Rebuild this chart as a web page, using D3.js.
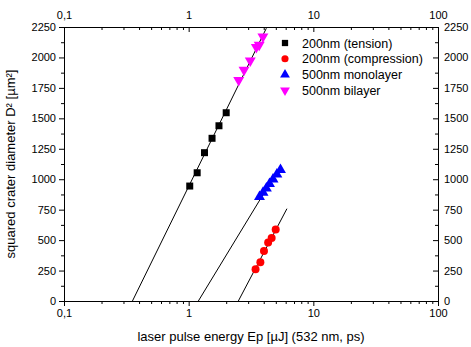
<!DOCTYPE html>
<html>
<head>
<meta charset="utf-8">
<script src="https://cdn.jsdelivr.net/npm/d3@7"></script>
<style>
  body { margin: 0; background: #fff; }
  svg text { font-family: "Liberation Sans", Arial, sans-serif; fill: #000; }
</style>
</head>
<body>
<script>
// data
var tensionE = [1.02, 1.17, 1.34, 1.54, 1.75, 2.0];
var tensionD2 = [944, 1053, 1218, 1336, 1439, 1546];

var compressionE = [3.44, 3.76, 4.02, 4.34, 4.63, 4.99];
var compressionD2 = [260, 318, 410, 480, 517, 587];

var monolayerE = [3.7, 3.95, 4.2, 4.45, 4.75, 5.1, 5.45];
var monolayerD2 = [855, 890, 925, 962, 1000, 1040, 1078];

var bilayerE = [2.52, 2.78, 3.12, 3.49, 3.68, 3.94];
var bilayerD2 = [1814, 1897, 1973, 2085, 2102, 2170];

// fitted lines, [energy, D2] endpoints
var fitTensionBilayer = [[0.354, 0], [4.2, 2240]];
var fitMonolayer = [[1.196, 0], [5.47, 1111]];
var fitCompression = [[2.503, 0], [6.14, 758]];

var xTickValues = [0.1, 1, 10, 100];
var xTickLabels = ["0,1", "1", "10", "100"];
var yTickValues = [0, 250, 500, 750, 1000, 1250, 1500, 1750, 2000, 2250];

var legendNames = ["200nm (tension)", "200nm (compression)", "500nm monolayer", "500nm bilayer"];
var legendColors = ["#000000", "#ff0000", "#0000ff", "#ff00ff"];

function main() {
    var width = 471, height = 347;
    var left = 64, right = 438, top = 27, bottom = 301;

    var svg = d3.select("body").append("svg")
        .attr("width", width)
        .attr("height", height);

    var x = d3.scaleLog().domain([0.1, 100]).range([left, right]);
    var y = d3.scaleLinear().domain([0, 2250]).range([bottom, top]);

    // minor ticks
    var xMinor = [];
    [0.1, 1, 10].forEach(function (d) {
        for (var k = 2; k <= 9; k++) xMinor.push(d * k);
    });
    var yMinor = yTickValues.slice(0, -1).map(function (d) { return d + 125; });

    function fmtX(d) { return xTickLabels[xTickValues.indexOf(d)]; }
    var fmtY = d3.format("d");

    var axB = svg.append("g").attr("transform", "translate(0," + bottom + ")")
        .call(d3.axisBottom(x).tickValues(xTickValues).tickFormat(fmtX).tickSize(5).tickPadding(3).tickSizeOuter(0));
    axB.append("g").call(d3.axisBottom(x).tickValues(xMinor).tickFormat("").tickSize(3).tickSizeOuter(0))
        .select(".domain").remove();

    var axT = svg.append("g").attr("transform", "translate(0," + top + ")")
        .call(d3.axisTop(x).tickValues(xTickValues).tickFormat(fmtX).tickSizeInner(-5).tickPadding(8).tickSizeOuter(0));
    axT.append("g").call(d3.axisTop(x).tickValues(xMinor).tickFormat("").tickSizeInner(-3).tickSizeOuter(0))
        .select(".domain").remove();

    var axL = svg.append("g").attr("transform", "translate(" + left + ",0)")
        .call(d3.axisLeft(y).tickValues(yTickValues).tickFormat(fmtY).tickSize(5).tickPadding(3).tickSizeOuter(0));
    axL.append("g").call(d3.axisLeft(y).tickValues(yMinor).tickFormat("").tickSize(3).tickSizeOuter(0))
        .select(".domain").remove();

    var axR = svg.append("g").attr("transform", "translate(" + right + ",0)")
        .call(d3.axisRight(y).tickValues(yTickValues).tickFormat(fmtY).tickSizeInner(-5).tickPadding(6).tickSizeOuter(0));
    axR.append("g").call(d3.axisRight(y).tickValues(yMinor).tickFormat("").tickSizeInner(-3).tickSizeOuter(0))
        .select(".domain").remove();

    svg.selectAll(".tick text").style("font-size", "11px").style("font-family", "Liberation Sans, Arial, sans-serif");
    svg.selectAll(".domain, .tick line").attr("stroke", "#000").attr("stroke-width", 1);

    // fit lines
    var line = d3.line().x(function (d) { return x(d[0]); }).y(function (d) { return y(d[1]); });
    [fitTensionBilayer, fitMonolayer, fitCompression].forEach(function (f) {
        svg.append("path").datum(f).attr("d", line)
            .attr("fill", "none").attr("stroke", "#000").attr("stroke-width", 1);
    });

    // markers
    var sym = [d3.symbolSquare, d3.symbolCircle, d3.symbolTriangle, d3.symbolTriangle];
    var sizes = [49, 50, 52, 52];
    var rot = [0, 0, 0, 180];
    var series = [
        [tensionE, tensionD2],
        [compressionE, compressionD2],
        [monolayerE, monolayerD2],
        [bilayerE, bilayerD2]
    ];
    series.forEach(function (s, i) {
        var pts = s[0].map(function (e, j) { return [e, s[1][j]]; });
        svg.append("g").selectAll("path").data(pts).join("path")
            .attr("d", d3.symbol().type(sym[i]).size(sizes[i]))
            .attr("transform", function (d) {
                return "translate(" + x(d[0]) + "," + y(d[1]) + ") rotate(" + rot[i] + ")";
            })
            .attr("fill", legendColors[i]);
    });

    // legend
    var lg = svg.append("g");
    legendNames.forEach(function (n, i) {
        var ly = 43 + i * 15.8;
        lg.append("path")
            .attr("d", d3.symbol().type(sym[i]).size(sizes[i] * 0.8))
            .attr("transform", "translate(285," + ly + ") rotate(" + rot[i] + ")")
            .attr("fill", legendColors[i]);
        lg.append("text").attr("x", 302).attr("y", ly + 4.5)
            .style("font-size", "12.5px").text(n);
    });

    // axis titles
    svg.append("text")
        .attr("x", (left + right) / 2).attr("y", 341)
        .attr("text-anchor", "middle").style("font-size", "13px")
        .text("laser pulse energy Ep [µJ] (532 nm, ps)");
    svg.append("text")
        .attr("transform", "translate(15," + ((top + bottom) / 2) + ") rotate(-90)")
        .attr("text-anchor", "middle").style("font-size", "13px")
        .text("squared crater diameter D² [µm²]");
}

window.onload = main;
</script>
</body>
</html>
